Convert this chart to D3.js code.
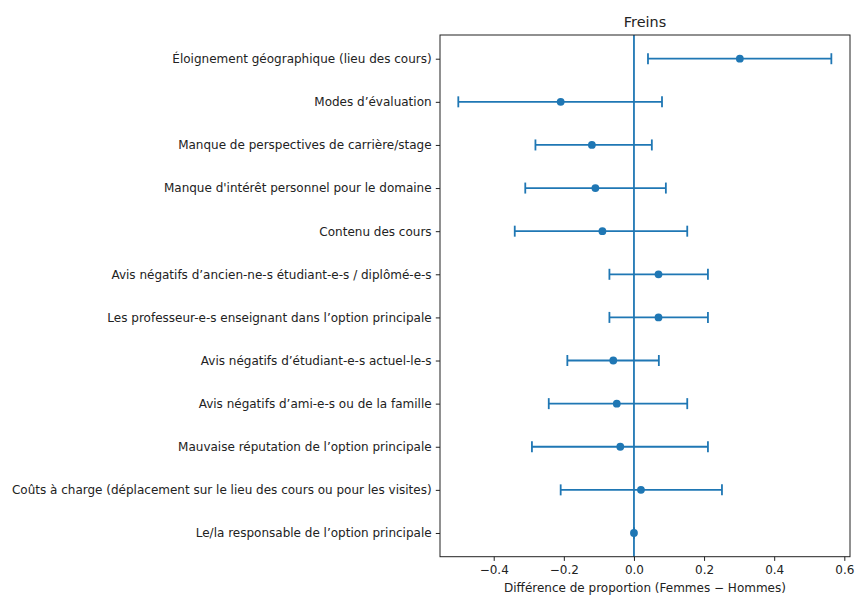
<!DOCTYPE html>
<html>
<head>
<meta charset="utf-8">
<script src="https://cdn.jsdelivr.net/npm/d3@7"></script>
<style>
  body { margin: 0; background: #fff; }
  text { font-family: "DejaVu Sans", sans-serif; fill: #222; }
</style>
</head>
<body>
<svg id="chart" width="855" height="595"></svg>
<script>
const categories = [
  "Éloignement géographique (lieu des cours)",
  "Modes d’évaluation",
  "Manque de perspectives de carrière/stage",
  "Manque d'intérêt personnel pour le domaine",
  "Contenu des cours",
  "Avis négatifs d’ancien-ne-s étudiant-e-s / diplômé-e-s",
  "Les professeur-e-s enseignant dans l’option principale",
  "Avis négatifs d’étudiant-e-s actuel-le-s",
  "Avis négatifs d’ami-e-s ou de la famille",
  "Mauvaise réputation de l’option principale",
  "Coûts à charge (déplacement sur le lieu des cours ou pour les visites)",
  "Le/la responsable de l’option principale"
];
const estimates = [0.302, -0.209, -0.120, -0.110, -0.090, 0.070, 0.070, -0.059, -0.049, -0.039, 0.020, 0.0];
const lower     = [0.040, -0.501, -0.281, -0.310, -0.340, -0.070, -0.070, -0.190, -0.243, -0.291, -0.209, 0.0];
const upper     = [0.563, 0.080, 0.051, 0.091, 0.152, 0.211, 0.211, 0.071, 0.152, 0.211, 0.251, 0.0];
const xTicks = [-0.4, -0.2, 0.0, 0.2, 0.4, 0.6];
const title = "Freins";
const xLabel = "Différence de proportion (Femmes − Hommes)";

const color = "#1f77b4";
const svg = d3.select("#chart");
const L = 440, R = 850, T = 35, B = 556.7;
const fs = "12px";

const x = d3.scaleLinear().domain([-0.5532, 0.6162]).range([L, R]);
const y = d3.scaleLinear().domain([-0.55, categories.length - 1 + 0.55]).range([T, B]);

const fmt = d => (d < 0 ? "−" : "") + Math.abs(d).toFixed(1);

// x axis
const xAxis = svg.append("g")
  .attr("transform", `translate(0,${B})`)
  .call(d3.axisBottom(x).tickValues(xTicks).tickFormat(fmt).tickSize(4.2).tickPadding(4.2));
xAxis.select(".domain").remove();
xAxis.selectAll(".tick line").attr("stroke", "#222").attr("stroke-width", 1);
xAxis.selectAll(".tick text").attr("font-size", fs).attr("fill", "#222")
  .style("font-family", "DejaVu Sans, sans-serif");

// y axis
const yAxis = svg.append("g")
  .attr("transform", `translate(${L},0)`)
  .call(d3.axisLeft(y).tickValues(d3.range(categories.length)).tickFormat(i => categories[i]).tickSize(4.2).tickPadding(4.2));
yAxis.select(".domain").remove();
yAxis.selectAll(".tick line").attr("stroke", "#222").attr("stroke-width", 1);
yAxis.selectAll(".tick text").attr("font-size", fs).attr("fill", "#222")
  .style("font-family", "DejaVu Sans, sans-serif");

// zero line
svg.append("line")
  .attr("x1", x(0)).attr("x2", x(0)).attr("y1", T).attr("y2", B)
  .attr("stroke", color).attr("stroke-width", 1.8);

// error bars
const rows = categories.map((c, i) => ({ i, est: estimates[i], lo: lower[i], hi: upper[i] }));
const g = svg.append("g");
const cap = 5.5;
rows.forEach(r => {
  const yy = y(r.i);
  g.append("line").attr("x1", x(r.lo)).attr("x2", x(r.hi)).attr("y1", yy).attr("y2", yy)
    .attr("stroke", color).attr("stroke-width", 1.8);
  [r.lo, r.hi].forEach(v => {
    g.append("line").attr("x1", x(v)).attr("x2", x(v)).attr("y1", yy - cap).attr("y2", yy + cap)
      .attr("stroke", color).attr("stroke-width", 1.8);
  });
  g.append("circle").attr("cx", x(r.est)).attr("cy", yy).attr("r", 3.9).attr("fill", color);
});

// frame
svg.append("rect").attr("x", L).attr("y", T).attr("width", R - L).attr("height", B - T)
  .attr("fill", "none").attr("stroke", "#222").attr("stroke-width", 1);

// title
svg.append("text").attr("x", (L + R) / 2).attr("y", 27).attr("text-anchor", "middle")
  .attr("font-size", "14.4px").text(title);

// x label
svg.append("text").attr("x", (L + R) / 2).attr("y", 591.5).attr("text-anchor", "middle")
  .attr("font-size", fs).text(xLabel);
</script>
</body>
</html>
